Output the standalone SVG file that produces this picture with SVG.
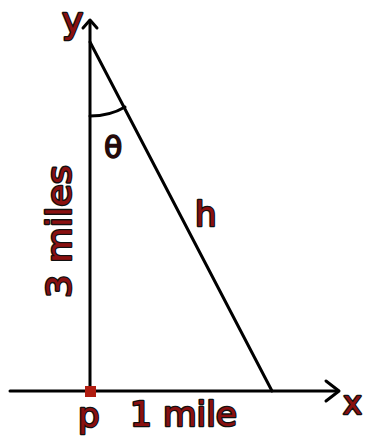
<svg xmlns="http://www.w3.org/2000/svg" width="366" height="438" viewBox="0 0 366 438">
<style>
.ln{stroke:#000;stroke-width:3;fill:none;stroke-linecap:round;stroke-linejoin:round}
.lb{font-family:"DejaVu Sans","Liberation Sans",sans-serif;font-weight:normal;fill:#8a1010;stroke:#111;stroke-width:2.6;paint-order:stroke;stroke-linejoin:round}
</style>
<rect width="366" height="438" fill="#fff"/>
<g id="connectors">
<line class="ln" x1="90" y1="21" x2="90" y2="391"/>
<polyline class="ln" points="83,28 90,20 97,28"/>
<line class="ln" x1="10" y1="391" x2="338" y2="391"/>
<polyline class="ln" points="326,381 339,391 326,401"/>
<line class="ln" x1="90" y1="42" x2="272" y2="391" stroke-width="2.6"/>
<path class="ln" d="M90,116 Q110,116 125,107" stroke-width="2.5"/>
</g>
<g id="point-p">
<rect x="85" y="386" width="11" height="11" fill="#b01c10"/>
<text class="lb" x="78" y="427" font-size="34">p</text>
</g>
<g id="label-y"><text class="lb" x="62" y="33" font-size="36">y</text></g>
<g id="label-x"><text class="lb" x="343" y="414" font-size="32">x</text></g>
<g id="label-theta"><text class="lb" x="104" y="158" font-size="30" style="fill:#2a0808;stroke-width:1.5">θ</text></g>
<g id="label-h"><text class="lb" x="195" y="226" font-size="34">h</text></g>
<g id="label-3miles"><text class="lb" transform="translate(71,298) rotate(-90)" x="0" y="0" font-size="34" textLength="133" lengthAdjust="spacingAndGlyphs">3 miles</text></g>
<g id="label-1mile"><text class="lb" x="130" y="426" font-size="34" textLength="107" lengthAdjust="spacingAndGlyphs">1 mile</text></g>
</svg>
